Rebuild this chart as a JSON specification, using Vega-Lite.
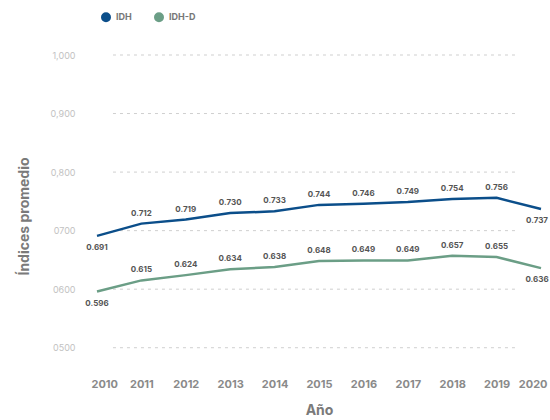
{
  "$schema": "https://vega.github.io/schema/vega-lite/v6.json",
  "autosize": {"type": "none"},
  "width": 444,
  "height": 322,
  "padding": {"left": 97, "top": 55, "right": 9, "bottom": 43},
  "config": {
    "font": "Inter",
    "view": {"stroke": null},
    "axis": {"domain": false, "ticks": false}
  },
  "datasets": {
    "series": [
      {"year": 2010, "serie": "IDH", "valor": 0.691},
      {"year": 2011, "serie": "IDH", "valor": 0.712},
      {"year": 2012, "serie": "IDH", "valor": 0.719},
      {"year": 2013, "serie": "IDH", "valor": 0.730},
      {"year": 2014, "serie": "IDH", "valor": 0.733},
      {"year": 2015, "serie": "IDH", "valor": 0.744},
      {"year": 2016, "serie": "IDH", "valor": 0.746},
      {"year": 2017, "serie": "IDH", "valor": 0.749},
      {"year": 2018, "serie": "IDH", "valor": 0.754},
      {"year": 2019, "serie": "IDH", "valor": 0.756},
      {"year": 2020, "serie": "IDH", "valor": 0.737},
      {"year": 2010, "serie": "IDH-D", "valor": 0.596},
      {"year": 2011, "serie": "IDH-D", "valor": 0.615},
      {"year": 2012, "serie": "IDH-D", "valor": 0.624},
      {"year": 2013, "serie": "IDH-D", "valor": 0.634},
      {"year": 2014, "serie": "IDH-D", "valor": 0.638},
      {"year": 2015, "serie": "IDH-D", "valor": 0.648},
      {"year": 2016, "serie": "IDH-D", "valor": 0.649},
      {"year": 2017, "serie": "IDH-D", "valor": 0.649},
      {"year": 2018, "serie": "IDH-D", "valor": 0.657},
      {"year": 2019, "serie": "IDH-D", "valor": 0.655},
      {"year": 2020, "serie": "IDH-D", "valor": 0.636}
    ],
    "grid": [
      {"g": 0.5, "desde": 2010.36, "hasta": 2019.48},
      {"g": 0.6, "desde": 2010.36, "hasta": 2019.48},
      {"g": 0.7, "desde": 2010.36, "hasta": 2019.48},
      {"g": 0.8, "desde": 2010.36, "hasta": 2019.48},
      {"g": 0.9, "desde": 2010.36, "hasta": 2019.48},
      {"g": 1.0, "desde": 2010.36, "hasta": 2019.48}
    ]
  },
  "layer": [
    {
      "data": {"name": "grid"},
      "mark": {"type": "rule", "color": "#cfcfcf", "strokeDash": [3, 4], "strokeWidth": 1},
      "encoding": {
        "x": {"field": "desde", "type": "quantitative",
          "scale": {"domain": [2010, 2020], "nice": false, "zero": false},
          "axis": {
            "values": [2010, 2011, 2012, 2013, 2014, 2015, 2016, 2017, 2018, 2019, 2020],
            "format": "d", "grid": false, "title": "Año",
            "labelFontSize": 11, "labelFontWeight": "bold", "labelColor": "#8a8a8a",
            "labelPadding": 1, "labelFlush": true, "labelFlushOffset": 6,
            "titleFontSize": 14, "titleFontWeight": "bold", "titleColor": "#7a7a7a", "titlePadding": 14
          }
        },
        "x2": {"field": "hasta"},
        "y": {"field": "g", "type": "quantitative",
          "scale": {"domain": [0.45, 1.0], "nice": false, "zero": false},
          "axis": {
            "values": [0.5, 0.6, 0.7, 0.8, 0.9, 1.0],
            "labelExpr": "datum.value >= 0.99 ? '1,000' : datum.value >= 0.89 ? '0,900' : datum.value >= 0.79 ? '0,800' : datum.value >= 0.69 ? '0700' : datum.value >= 0.59 ? '0600' : '0500'",
            "labelFontSize": 9, "labelColor": "#c2c2c2", "labelPadding": 22,
            "grid": false,
            "title": "Índices promedio", "titleFontSize": 14, "titleFontWeight": "bold", "titleColor": "#7a7a7a",
            "titlePadding": 19
          }
        }
      }
    },
    {
      "data": {"name": "series"},
      "encoding": {
        "x": {"field": "year", "type": "quantitative"},
        "y": {"field": "valor", "type": "quantitative"}
      },
      "layer": [
        {
          "mark": {"type": "line", "strokeWidth": 2.5},
          "encoding": {
            "color": {
              "field": "serie", "type": "nominal",
              "scale": {"domain": ["IDH", "IDH-D"], "range": ["#0b4e8a", "#6b9e86"]},
              "legend": {
                "orient": "none", "legendX": 4, "legendY": -43, "direction": "horizontal", "title": null,
                "symbolType": "circle", "symbolSize": 25, "symbolStrokeWidth": 5, "symbolOpacity": 1,
                "labelFontSize": 9, "labelFontWeight": "bold", "labelColor": "#777777", "columnPadding": 14, "labelOffset": 5
              }
            }
          }
        },
        {
          "transform": [{"filter": "datum.year > 2010 && datum.year < 2020"}],
          "mark": {"type": "text", "dy": -10, "fontSize": 8, "fontWeight": "bold", "color": "#555555"},
          "encoding": {"text": {"field": "valor", "format": ".3f"}}
        },
        {
          "transform": [{"filter": "datum.year == 2010"}],
          "mark": {"type": "text", "dy": 12, "fontSize": 8, "fontWeight": "bold", "color": "#555555"},
          "encoding": {"text": {"field": "valor", "format": ".3f"}}
        },
        {
          "transform": [{"filter": "datum.year == 2020"}],
          "mark": {"type": "text", "dy": 12, "dx": -4, "fontSize": 8, "fontWeight": "bold", "color": "#555555"},
          "encoding": {"text": {"field": "valor", "format": ".3f"}}
        }
      ]
    }
  ]
}
